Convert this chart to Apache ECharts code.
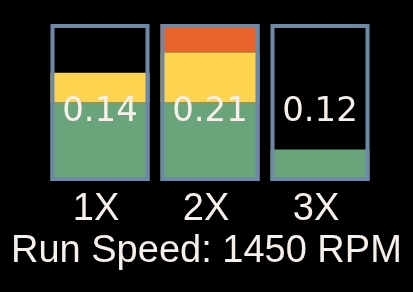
<!DOCTYPE html>
<html>
<head>
<meta charset="utf-8">
<script src="https://cdn.jsdelivr.net/npm/echarts@6/dist/echarts.min.js"></script>
<style>
	html, body { margin: 0; padding: 0; background: #000; }
	#chart { width: 413px; height: 292px; }
</style>
</head>
<body>
<div id="chart"></div>
<script>
	// categories and readings
	var categories = ['1X', '2X', '3X'];
	var readings = [0.14, 0.21, 0.12];
	// stacked segments, percent of box height
	var greenPart = [50, 50, 20];
	var yellowPart = [19, 32, 0];
	var orangePart = [0, 18, 0];
	var frameFull = [100, 100, 100];
	var titleText = 'Run Speed: 1450 RPM';

	var textColor = '#f7f0ea';
	var fontFam = '"Liberation Sans", Arial, sans-serif';

	var myChart = echarts.init(document.getElementById('chart'));
	var option = {
		animation: false,
		backgroundColor: '#000',
		title: {
			text: titleText,
			left: 11,
			top: 233,
			padding: 0,
			textStyle: { color: textColor, fontSize: 38, fontWeight: 'normal', fontFamily: fontFam }
		},
		grid: { left: 45, right: 38, top: 24, bottom: 111 },
		xAxis: {
			type: 'category',
			data: categories,
			axisLine: { show: false },
			axisTick: { show: false },
			axisLabel: {
				color: textColor,
				fontSize: 38,
				fontFamily: fontFam,
				margin: 10,
				padding: [0, 8, 0, 0]
			}
		},
		yAxis: { type: 'value', min: 0, max: 100, show: false },
		series: [{
			name: 'green', type: 'bar', stack: 'lvl', barWidth: 99,
			itemStyle: { color: '#6aa47a' }, data: greenPart
		}, {
			name: 'yellow', type: 'bar', stack: 'lvl', barWidth: 99,
			itemStyle: { color: '#fdd34f' }, data: yellowPart
		}, {
			name: 'orange', type: 'bar', stack: 'lvl', barWidth: 99,
			itemStyle: { color: '#e8622c' }, data: orangePart
		}, {
			name: 'frame', type: 'bar', barWidth: 99, barGap: '-100%',
			itemStyle: { color: 'transparent', borderColor: '#6e89a7', borderWidth: 4 },
			label: {
				show: true,
				position: 'inside',
				offset: [0, 10],
				color: textColor,
				fontSize: 34,
				fontFamily: '"DejaVu Sans", sans-serif',
				formatter: function (p) { return readings[p.dataIndex].toFixed(2); }
			},
			data: frameFull
		}]
	};
	myChart.setOption(option);
</script>
</body>
</html>
